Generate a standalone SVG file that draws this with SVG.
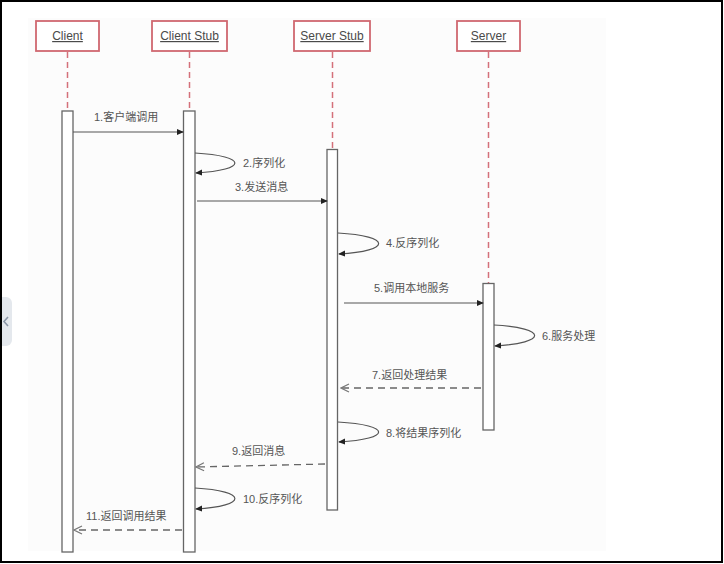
<svg xmlns="http://www.w3.org/2000/svg" width="724" height="564" viewBox="0 0 724 564">
  <defs>
    <style>
      .head { fill: #ffffff; stroke: #d06870; stroke-width: 1.8; }
      .htxt { font-family: "Liberation Sans", "Noto Sans CJK SC", sans-serif; font-size: 12px; fill: #4a4a4a; text-anchor: middle; text-decoration: underline; }
      .life { stroke: #d4707a; stroke-width: 1.5; stroke-dasharray: 6 4; fill: none; }
      .act { fill: #ffffff; stroke: #666666; stroke-width: 1.3; }
      .msg { stroke: #555555; stroke-width: 1.2; fill: none; }
      .ret { stroke: #666666; stroke-width: 1.3; stroke-dasharray: 7 5; fill: none; }
      .lbl { font-family: "Liberation Sans", "Noto Sans CJK SC", sans-serif; font-size: 11px; fill: #555555; }
    </style>
    <marker id="solid" viewBox="0 0 8 8" refX="7" refY="4" markerWidth="7" markerHeight="7" markerUnits="userSpaceOnUse" orient="auto">
      <path d="M0,0.5 L8,4 L0,7.5 Z" fill="#222222"/>
    </marker>
    <marker id="open" viewBox="0 0 10 10" refX="9" refY="5" markerWidth="10" markerHeight="10" markerUnits="userSpaceOnUse" orient="auto">
      <path d="M1,1 L9,5 L1,9" fill="none" stroke="#777777" stroke-width="1.2"/>
    </marker>
  </defs>

  <rect x="0" y="0" width="724" height="564" fill="#ffffff"/>
  <rect x="28" y="18" width="578" height="533" fill="#fcfcfc"/>

  <!-- side tab -->
  <g id="side-tab">
    <rect x="-6" y="297" width="18" height="49" rx="6" fill="#e4e8ed"/>
    <polyline points="8,317 4,321.5 8,326" fill="none" stroke="#8a96a6" stroke-width="1.6"/>
  </g>

  <!-- lifelines -->
  <g id="lifelines">
    <line class="life" x1="67.5" y1="52" x2="67.5" y2="111"/>
    <line class="life" x1="189.5" y1="52" x2="189.5" y2="111"/>
    <line class="life" x1="332.5" y1="52" x2="332.5" y2="149"/>
    <line class="life" x1="488.5" y1="52" x2="488.5" y2="283"/>
  </g>

  <g id="client">
    <rect class="head" x="36" y="21" width="63" height="30"/>
    <text class="htxt" x="67.5" y="40">Client</text>
    <rect class="act" x="62" y="111" width="11" height="441"/>
  </g>
  <g id="client-stub">
    <rect class="head" x="152" y="21" width="75" height="30"/>
    <text class="htxt" x="189.5" y="40">Client Stub</text>
    <rect class="act" x="183.5" y="111" width="11.5" height="441"/>
  </g>
  <g id="server-stub">
    <rect class="head" x="294" y="21" width="76" height="30"/>
    <text class="htxt" x="332" y="40">Server Stub</text>
    <rect class="act" x="327" y="149.5" width="10.5" height="360.5"/>
  </g>
  <g id="server">
    <rect class="head" x="457" y="21" width="63" height="30"/>
    <text class="htxt" x="488.5" y="40">Server</text>
    <rect class="act" x="483" y="283.5" width="11" height="146.5"/>
  </g>

  <!-- connectors -->
  <g id="connectors">
    <line class="msg" x1="73" y1="132" x2="183" y2="132" marker-end="url(#solid)"/>
    <path class="msg" d="M195,153 C248,156 248,170 196,173" marker-end="url(#solid)"/>
    <line class="msg" x1="197" y1="201" x2="327" y2="201" marker-end="url(#solid)"/>
    <path class="msg" d="M338,233 C392,236 392,251 339,254" marker-end="url(#solid)"/>
    <line class="msg" x1="344" y1="303" x2="483" y2="303" marker-end="url(#solid)"/>
    <path class="msg" d="M494,325 C548,328 548,343 495,346" marker-end="url(#solid)"/>
    <line class="ret" x1="481" y1="388" x2="341" y2="388" marker-end="url(#open)"/>
    <path class="msg" d="M338,422 C392,425 392,439 339,442" marker-end="url(#solid)"/>
    <line class="ret" x1="325" y1="464" x2="196" y2="467" marker-end="url(#open)"/>
    <path class="msg" d="M195,488 C248,491 248,506 196,509" marker-end="url(#solid)"/>
    <line class="ret" x1="182" y1="530" x2="74" y2="530" marker-end="url(#open)"/>
  </g>

  <!-- labels -->
  <g id="labels">
    <text class="lbl" x="94" y="121">1.客户端调用</text>
    <text class="lbl" x="243" y="167">2.序列化</text>
    <text class="lbl" x="235" y="191">3.发送消息</text>
    <text class="lbl" x="386" y="247">4.反序列化</text>
    <text class="lbl" x="374" y="292">5.调用本地服务</text>
    <text class="lbl" x="542" y="340">6.服务处理</text>
    <text class="lbl" x="372" y="379">7.返回处理结果</text>
    <text class="lbl" x="386" y="437">8.将结果序列化</text>
    <text class="lbl" x="232" y="455">9.返回消息</text>
    <text class="lbl" x="243" y="503">10.反序列化</text>
    <text class="lbl" x="86" y="520">11.返回调用结果</text>
  </g>

  <!-- frame -->
  <rect x="1" y="1" width="721" height="561" fill="none" stroke="#000000" stroke-width="2"/>
</svg>
